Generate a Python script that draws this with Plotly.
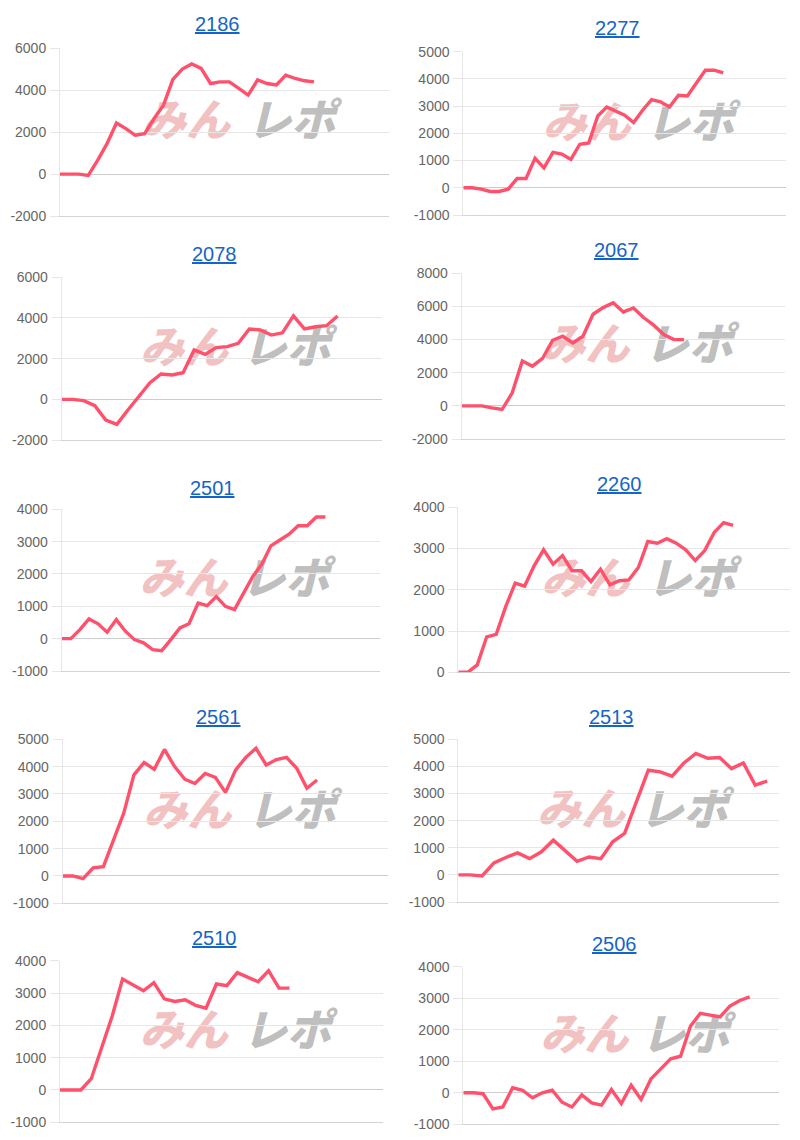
import plotly.graph_objects as go

# ---------------- data ----------------
titles = ["2186", "2277", "2078", "2067", "2501", "2260", "2561", "2513", "2510", "2506"]

v2186 = [0, 0, 0, -60, 650, 1450, 2440, 2170, 1850, 1930, 2650, 3290, 4520, 5010, 5250, 5040,
         4320, 4400, 4400, 4090, 3770, 4490, 4320, 4250, 4720, 4560, 4450, 4400]
v2277 = [0, 0, -50, -135, -135, -50, 340, 340, 1080, 730, 1300, 1240, 1040, 1600, 1650, 2640,
         2970, 2830, 2670, 2400, 2850, 3240, 3160, 2970, 3400, 3370, 3830, 4320, 4320, 4220]
v2078 = [0, 0, -65, -310, -1015, -1230, -525, 180, 820, 1245, 1200, 1310, 2430, 2210, 2540,
         2590, 2750, 3460, 3410, 3160, 3270, 4100, 3460, 3570, 3620, 4100]
v2067 = [0, 0, 0, -120, -220, 785, 2715, 2395, 2860, 3960, 4200, 3800, 4200, 5530, 5930, 6220,
         5670, 5910, 5330, 4870, 4300, 4000, 4000]
v2501 = [0, 0, 280, 610, 460, 200, 590, 230, -30, -130, -340, -370, -30, 330, 460, 1100, 1020,
         1300, 1000, 900, 1410, 1920, 2300, 2870, 3050, 3230, 3490, 3490, 3760, 3760]
v2260 = [0, 0, 180, 860, 920, 1590, 2160, 2090, 2580, 2970, 2620, 2830, 2460, 2460, 2200, 2500,
         2120, 2220, 2240, 2540, 3170, 3130, 3240, 3130, 2970, 2710, 2950, 3390, 3630, 3560]
v2561 = [0, 0, -100, 300, 340, 1320, 2300, 3700, 4150, 3900, 4630, 4000, 3540, 3380, 3750, 3610,
         3060, 3880, 4340, 4670, 4060, 4260, 4340, 3940, 3210, 3510]
v2513 = [0, 0, -40, 440, 640, 810, 600, 850, 1280, 890, 500, 660, 600, 1220, 1530, 2700, 3860,
         3800, 3640, 4130, 4480, 4300, 4330, 3920, 4130, 3310, 3460]
v2510 = [0, 0, 0, 350, 1300, 2280, 3430, 3250, 3070, 3320, 2820, 2740, 2790, 2620, 2530, 3280,
         3230, 3630, 3490, 3350, 3690, 3150, 3150]
v2506 = [0, 0, -30, -510, -450, 160, 80, -160, 0, 80, -300, -450, -70, -320, -390, 100, -340,
         240, -210, 440, 760, 1080, 1160, 2110, 2520, 2460, 2410, 2750, 2930, 3040]

series = [v2186, v2277, v2078, v2067, v2501, v2260, v2561, v2513, v2510, v2506]
x_slots = [35, 36, 29, 32, 35, 35, 32, 27, 31, 32]
y_ticks = [
    [-2000, 0, 2000, 4000, 6000],
    [-1000, 0, 1000, 2000, 3000, 4000, 5000],
    [-2000, 0, 2000, 4000, 6000],
    [-2000, 0, 2000, 4000, 6000, 8000],
    [-1000, 0, 1000, 2000, 3000, 4000],
    [0, 1000, 2000, 3000, 4000],
    [-1000, 0, 1000, 2000, 3000, 4000, 5000],
    [-1000, 0, 1000, 2000, 3000, 4000, 5000],
    [-1000, 0, 1000, 2000, 3000, 4000],
    [-1000, 0, 1000, 2000, 3000, 4000],
]
y_tick_labels = [[str(t) for t in ticks] for ticks in y_ticks]
logo_left = "みん"
logo_right = "レポ"

# ---------------- layout geometry (pixels in the screenshot) ----------------
W, H = 800, 1140
OFF = 8  # default page body margin
plot_px = [  # x_left, x_right, y_top, y_bottom
    (60.0, 389.3, 48.3, 216.0),
    (463.3, 786.0, 51.7, 215.0),
    (61.7, 381.7, 277.3, 440.0),
    (461.7, 785.0, 273.3, 439.0),
    (61.7, 380.0, 509.3, 671.0),
    (458.3, 790.0, 507.3, 672.3),
    (62.7, 388.3, 739.3, 903.3),
    (458.3, 779.0, 739.3, 902.0),
    (60.0, 383.3, 960.7, 1122.3),
    (463.3, 779.3, 966.7, 1124.3),
]
title_px = [(217, 24), (617, 28), (215, 254), (616, 250), (213, 488),
            (619, 484), (218, 717), (611, 717), (214, 938), (614, 944)]


def fx(px):
    return (px - OFF) / W


def fy(py):
    return 1 - (py - OFF) / H


LINE = "rgb(255,80,108)"
GRID = "#e6e6e6"
ZERO = "#cccccc"
FONT = "Liberation Sans"

fig = go.Figure()
annotations = []
shapes = []
layout = dict(
    width=W, height=H,
    margin=dict(l=0, r=0, t=0, b=0, autoexpand=False),
    paper_bgcolor="white", plot_bgcolor="rgba(0,0,0,0)",
    showlegend=False,
)

for i, vals in enumerate(series):
    sfx = "" if i == 0 else str(i + 1)
    xl, xr, yt, yb = plot_px[i]
    fig.add_trace(go.Scatter(
        x=list(range(len(vals))), y=vals, mode="lines",
        line=dict(color=LINE, width=3.4), xaxis="x" + sfx, yaxis="y" + sfx,
        hoverinfo="skip",
    ))
    layout["xaxis" + sfx] = dict(
        domain=[fx(xl), fx(xr)], range=[0, x_slots[i]], anchor="y" + sfx,
        showgrid=False, showticklabels=False, zeroline=False,
        showline=True, linecolor=ZERO if y_ticks[i][0] == 0 else "#d4d4d4", linewidth=1,
        fixedrange=True, automargin=False,
    )
    layout["yaxis" + sfx] = dict(
        domain=[fy(yb), fy(yt)], range=[y_ticks[i][0], y_ticks[i][-1]], anchor="x" + sfx,
        tickmode="array", tickvals=y_ticks[i], ticktext=y_tick_labels[i],
        showgrid=True, gridcolor=GRID, gridwidth=1,
        zeroline=True, zerolinecolor=ZERO, zerolinewidth=1,
        showline=True, linecolor=GRID, linewidth=1,
        ticks="outside", ticklen=9, tickcolor=GRID, tickwidth=1, ticklabelstandoff=1,
        tickfont=dict(family=FONT, size=14, color="#666666"),
        fixedrange=True, automargin=False,
    )
    tx, ty = title_px[i]
    annotations.append(dict(
        text="<u>" + titles[i] + "</u>", x=fx(tx), y=fy(ty), xref="paper", yref="paper",
        xanchor="center", yanchor="middle", showarrow=False,
        font=dict(family=FONT, size=20, color="#1565c8"),
    ))
    # watermark logo (behind the line)
    for txt, x0, x1, col in [(logo_left, 0.235, 0.53, "rgba(222,90,90,0.38)"),
                             (logo_right, 0.545, 0.86, "rgba(110,110,110,0.45)")]:
        shapes.append(dict(
            type="rect", xref="x" + sfx + " domain", yref="y" + sfx + " domain",
            x0=x0, x1=x1, y0=0.44, y1=0.655, layer="below",
            line=dict(width=0), fillcolor="rgba(0,0,0,0)",
            label=dict(text=txt, textposition="middle center",
                       font=dict(family="Noto Sans CJK JP", size=44, color=col,
                                 weight=900, style="italic")),
        ))

layout["annotations"] = annotations
layout["shapes"] = shapes
fig.update_layout(**layout)
fig.write_html("out.html", config={"displayModeBar": False})
